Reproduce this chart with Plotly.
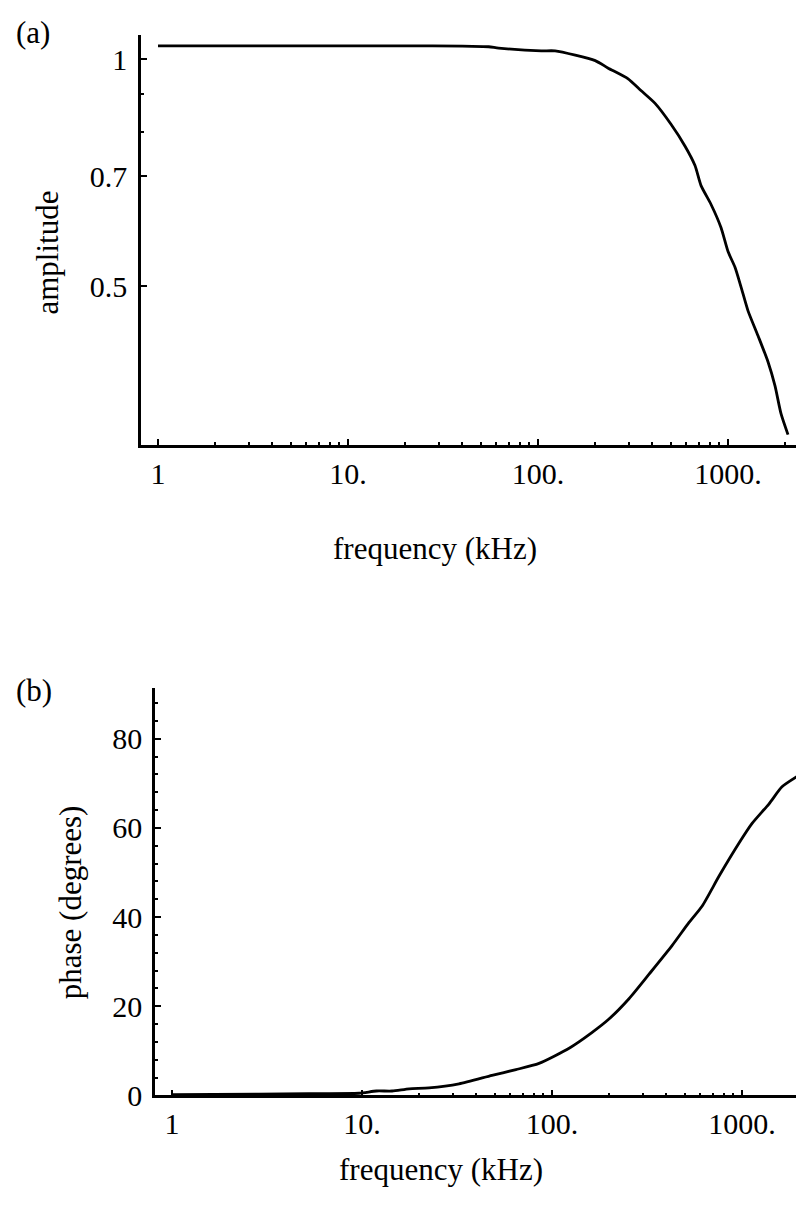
import plotly.graph_objects as go

W, H = 804, 1208

# ---- data ----
amp_freq = [1, 5, 20, 40, 55, 62, 104, 123, 200, 233, 298, 348, 413, 501, 594,
            670, 721, 814, 919, 1000, 1088, 1171, 1274, 1438, 1624, 1767, 1900, 2068]
amp = [1.042, 1.042, 1.042, 1.041, 1.039, 1.035, 1.026, 1.026, 0.996, 0.974, 0.942,
       0.909, 0.874, 0.820, 0.767, 0.723, 0.680, 0.642, 0.598, 0.556, 0.530, 0.499,
       0.464, 0.430, 0.397, 0.369, 0.339, 0.318]

ph_freq = [1, 2.87, 5.26, 9.64, 11.9, 14.4, 17.7, 22.5, 32.4, 48.3, 64.6, 85.4, 123,
           162, 200, 254, 324, 428, 526, 617, 757, 964, 1129, 1387, 1622, 1995]
phase = [0.2, 0.3, 0.4, 0.5, 1.0, 1.0, 1.5, 1.7, 2.6, 4.5, 5.8, 7.2, 10.6, 14.1,
         17.2, 21.7, 27.2, 33.6, 38.8, 42.5, 49.2, 56.6, 61.0, 65.4, 69.2, 71.8]

x_tickvals = [1, 10, 100, 1000]
x_ticktext = ["1", "10.", "100.", "1000."]
x_minor = [2, 3, 4, 5, 6, 7, 8, 9, 20, 30, 40, 50, 60, 70, 80, 90,
           200, 300, 400, 500, 600, 700, 800, 900, 2000]
amp_tickvals = [0.5, 0.7, 1]
amp_ticktext = ["0.5", "0.7", "1"]
amp_minor = [0.8, 0.9]
ph_tickvals = [0, 20, 40, 60, 80]
ph_ticktext = ["0", "20", "40", "60", "80"]
ph_minor = [4, 8, 12, 16, 24, 28, 32, 36, 44, 48, 52, 56, 64, 68, 72, 76, 84, 88]

FONT = "Liberation Serif, Times New Roman, serif"
FS_TICK = 30
FS_TITLE = 31


def px(x):
    return x / W


def py(y):
    return 1 - y / H


fig = go.Figure()
fig.add_trace(go.Scatter(x=amp_freq, y=amp, mode="lines",
                         line=dict(color="black", width=2.8, shape="spline", smoothing=0.6),
                         xaxis="x", yaxis="y", showlegend=False))
fig.add_trace(go.Scatter(x=ph_freq, y=phase, mode="lines",
                         line=dict(color="black", width=2.8, shape="spline", smoothing=0.6),
                         xaxis="x2", yaxis="y2", showlegend=False))

common = dict(showgrid=False, zeroline=False, showline=True, linecolor="black",
              linewidth=2.5, ticks="inside", ticklen=6, tickwidth=2, tickcolor="black",
              tickfont=dict(family=FONT, size=FS_TICK, color="black"))
minor_common = dict(ticks="inside", ticklen=3, tickwidth=2, tickcolor="black", showgrid=False)

fig.update_layout(
    width=W, height=H,
    margin=dict(l=0, r=0, t=0, b=0),
    paper_bgcolor="white", plot_bgcolor="white",
    font=dict(family=FONT, size=FS_TITLE, color="black"),
    xaxis=dict(type="log", domain=[px(133), px(797)], anchor="y",
               range=[-0.0895, 3.405], tickmode="array", tickvals=x_tickvals,
               ticktext=x_ticktext, minor=dict(tickmode="array", tickvals=x_minor, **minor_common),
               **common),
    yaxis=dict(type="log", domain=[py(443), py(27)], anchor="x",
               range=[-0.511, 0.0327], tickmode="array", tickvals=amp_tickvals,
               ticktext=amp_ticktext, ticklabelstandoff=5,
               minor=dict(tickmode="array", tickvals=amp_minor, **minor_common),
               **common),
    xaxis2=dict(type="log", domain=[px(147), px(804)], anchor="y2",
                range=[-0.0895, 3.368], tickmode="array", tickvals=x_tickvals,
                ticktext=x_ticktext, minor=dict(tickmode="array", tickvals=x_minor, **minor_common),
                **common),
    yaxis2=dict(domain=[py(1103), py(690)], anchor="x2",
                range=[0, 91.3], tickmode="array", tickvals=ph_tickvals,
                ticktext=ph_ticktext, ticklabelstandoff=4,
                minor=dict(tickmode="array", tickvals=ph_minor, **minor_common),
                **common),
)

ann = [
    dict(text="(a)", x=px(6), y=py(25), xanchor="left", yanchor="middle", textangle=0),
    dict(text="(b)", x=px(6), y=py(692), xanchor="left", yanchor="middle", textangle=0),
    dict(text="amplitude", x=px(40), y=py(248), xanchor="center", yanchor="middle", textangle=-90),
    dict(text="frequency (kHz)", x=px(427), y=py(548), xanchor="center", yanchor="middle", textangle=0),
    dict(text="phase (degrees)", x=px(62), y=py(907), xanchor="center", yanchor="middle", textangle=-90),
    dict(text="frequency (kHz)", x=px(433), y=py(1178), xanchor="center", yanchor="middle", textangle=0),
]
for a in ann:
    fig.add_annotation(xref="paper", yref="paper", showarrow=False,
                       font=dict(family=FONT, size=FS_TITLE, color="black"), **a)

fig.write_html("out.html")
